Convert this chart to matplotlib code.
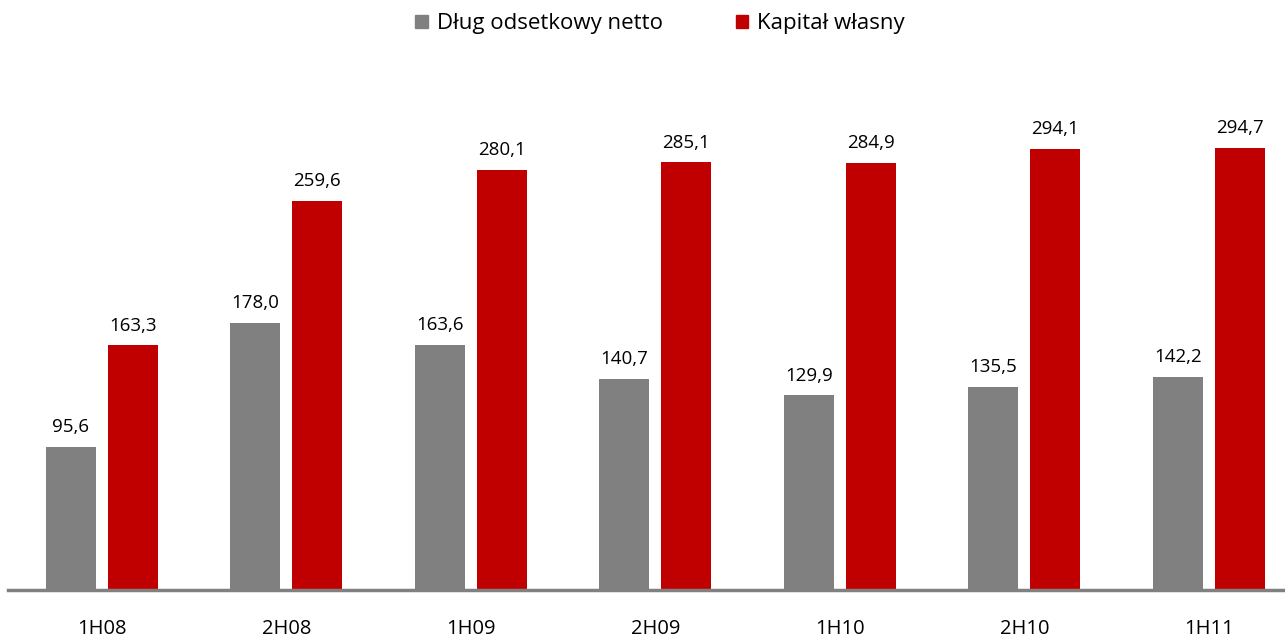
import matplotlib
matplotlib.use("Agg")
import matplotlib.pyplot as plt
from matplotlib.patches import Patch
import numpy as np

plt.rcParams['font.family'] = ['Open Sans', 'DejaVu Sans']

categories = ['1H08', '2H08', '1H09', '2H09', '1H10', '2H10', '1H11']
debt = [95.6, 178.0, 163.6, 140.7, 129.9, 135.5, 142.2]
equity = [163.3, 259.6, 280.1, 285.1, 284.9, 294.1, 294.7]
series_names = ['Dług odsetkowy netto', 'Kapitał własny']

gray = '#808080'
red = '#C00000'

fig = plt.figure(figsize=(12.85, 6.4), dpi=100)
ax = fig.add_axes([8 / 1285, 50 / 640, 1277 / 1285, 530 / 640])

x = np.arange(len(categories))
w = 0.271
off = 0.168
b1 = ax.bar(x - off, debt, w, color=gray)
b2 = ax.bar(x + off, equity, w, color=red)

for bars, vals in ((b1, debt), (b2, equity)):
    for r, v in zip(bars, vals):
        ax.text(r.get_x() + r.get_width() / 2, v + 7, f'{v:.1f}'.replace('.', ','),
                ha='center', va='bottom', fontsize=13.5, color='#000000')

ax.set_xlim(-0.509, 6.412)
ax.set_ylim(0, 353.3)
ax.set_yticks([])
ax.set_xticks(x)
ax.set_xticklabels(categories, fontsize=14.5)
ax.tick_params(axis='x', length=0, pad=21)
for s in ['top', 'right', 'left']:
    ax.spines[s].set_visible(False)
ax.spines['bottom'].set_color(gray)
ax.spines['bottom'].set_linewidth(2.5)

handles = [Patch(color=gray), Patch(color=red)]
fig.legend(handles, series_names, loc='center', bbox_to_anchor=(660 / 1285, 1 - 24 / 640),
           ncol=2, frameon=False, fontsize=16, handlelength=0.55, handleheight=0.55,
           handletextpad=0.4, columnspacing=3.3)

fig.savefig('out.png', dpi=100)
